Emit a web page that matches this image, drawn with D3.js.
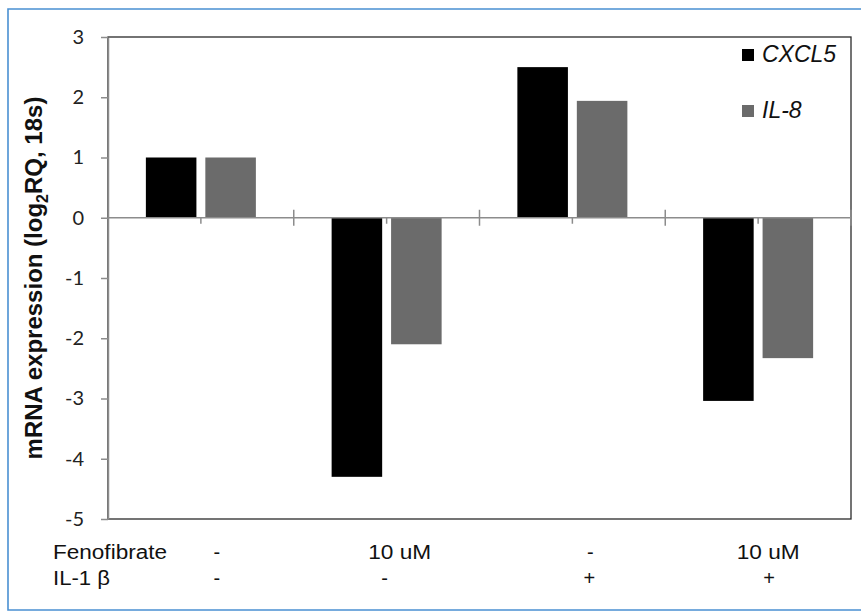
<!DOCTYPE html>
<html>
<head>
<meta charset="utf-8">
<script src="https://cdn.jsdelivr.net/npm/d3@7"></script>
<style>
  body { margin: 0; background: #fff; }
  svg { display: block; }
  .row-label { font-family: "Liberation Sans", Arial, sans-serif; font-size: 20px; fill: #111; }
</style>
</head>
<body>
<div id="vis"></div>
<script>
// chart values
const groups = ['g1', 'g2', 'g3', 'g4'];
const series = ['CXCL5', 'IL-8'];
const cxcl5 = [1.0, -4.3, 2.5, -3.04];
const il8 = [1.0, -2.1, 1.94, -2.33];
const yTicks = [-5, -4, -3, -2, -1, 0, 1, 2, 3];
const fenofibrate = ['-', '10 uM', '-', '10 uM'];
const il1b = ['-', '-', '+', '+'];

const W = 861, H = 612;
const margin = {top: 37, right: 10, bottom: 93, left: 108};
const width = W - margin.left - margin.right;
const height = H - margin.top - margin.bottom;

const colors = {CXCL5: '#000000', 'IL-8': '#6b6b6b'};

const svg = d3.select('#vis').append('svg')
    .attr('width', W)
    .attr('height', H);

// light blue outer frame (right edge is cut off in the picture)
svg.append('path')
    .attr('d', `M${W + 5},9 H8 V610 H${W + 5}`)
    .attr('fill', 'none')
    .attr('stroke', '#4a90d2')
    .attr('stroke-width', 1.6);

const g = svg.append('g')
    .attr('transform', `translate(${margin.left},${margin.top})`);

const x = d3.scaleBand().domain(groups).range([0, width]).padding(0);
const xSub = d3.scaleBand().domain(series).range([-55, 55]).paddingInner(0.15);
const y = d3.scaleLinear().domain([-5, 3]).range([height, 0]);

// plot frame
g.append('rect')
    .attr('x', 0).attr('y', 0)
    .attr('width', width).attr('height', height)
    .attr('fill', 'none')
    .attr('stroke', '#2a2a2a')
    .attr('stroke-width', 1.3);

// bars
const rows = groups.map((k, i) => ({group: k, values: [
    {key: 'CXCL5', v: cxcl5[i]},
    {key: 'IL-8', v: il8[i]}
]}));

g.selectAll('.grp')
    .data(rows)
    .join('g')
    .attr('class', 'grp')
    .attr('transform', d => `translate(${x(d.group) + x.bandwidth() / 2},0)`)
    .selectAll('rect')
    .data(d => d.values)
    .join('rect')
    .attr('x', d => xSub(d.key))
    .attr('width', xSub.bandwidth())
    .attr('y', d => y(Math.max(0, d.v)))
    .attr('height', d => Math.abs(y(d.v) - y(0)))
    .attr('fill', d => colors[d.key]);

// zero line with category ticks
const zero = g.append('g').attr('transform', `translate(0,${y(0)})`);
zero.append('line')
    .attr('x1', 0).attr('x2', width)
    .attr('stroke', '#8c8c8c').attr('stroke-width', 1.5);
zero.selectAll('.major')
    .data(groups.slice(1).concat(['end']))
    .join('line')
    .attr('x1', d => d === 'end' ? width : x(d))
    .attr('x2', d => d === 'end' ? width : x(d))
    .attr('y1', -8).attr('y2', 8)
    .attr('stroke', '#8c8c8c').attr('stroke-width', 1.5);
zero.selectAll('.minor')
    .data(groups)
    .join('line')
    .attr('x1', d => x(d) + x.bandwidth() / 2)
    .attr('x2', d => x(d) + x.bandwidth() / 2)
    .attr('y1', 0).attr('y2', 6)
    .attr('stroke', '#8c8c8c').attr('stroke-width', 1.5);

// y axis
const yAxis = d3.axisLeft(y)
    .tickValues(yTicks)
    .tickFormat(d3.format('d'))
    .tickSize(7)
    .tickSizeOuter(0)
    .tickPadding(17);
const ya = g.append('g').call(yAxis);
ya.select('.domain').attr('stroke', '#8c8c8c').attr('stroke-width', 1.5);
ya.selectAll('.tick line').attr('stroke', '#8c8c8c').attr('stroke-width', 1.5);
ya.selectAll('.tick text')
    .style('font-family', 'Lato, "Open Sans", sans-serif')
    .style('font-size', '20px')
    .attr('fill', '#222')
    .text(d => d < 0 ? '-' + Math.abs(d) : d);

// y axis title
const title = svg.append('text')
    .attr('transform', `translate(42,${margin.top + height / 2}) rotate(-90)`)
    .attr('text-anchor', 'middle')
    .style('font-family', '"Liberation Sans", Arial, sans-serif')
    .style('font-weight', 'bold')
    .style('font-size', '24px')
    .attr('fill', '#111');
title.append('tspan').text('mRNA expression (log');
title.append('tspan').attr('dy', 6).style('font-size', '16px').text('2');
title.append('tspan').attr('dy', -6).text('RQ, 18s)');

// legend
const legend = svg.append('g').attr('transform', 'translate(742,49)');
legend.selectAll('g')
    .data(series)
    .join('g')
    .attr('transform', (d, i) => `translate(0,${i * 56})`)
    .each(function (d) {
        const s = d3.select(this);
        s.append('rect').attr('width', 12).attr('height', 12).attr('fill', colors[d]);
        s.append('text')
            .attr('x', 20).attr('y', 13)
            .style('font-family', '"Liberation Sans", Arial, sans-serif')
            .style('font-style', 'italic')
            .style('font-size', '23px')
            .attr('fill', '#111')
            .text(d);
    });

// condition table under the axis (text is a bit wide in the picture)
const colShift = [[16, 13, 18, 10], [16, -2, 17, 11]];
const stretch = {'Fenofibrate': 114, 'IL-1 β': 57, '10 uM': 63};
const tableRows = [
    {name: 'Fenofibrate', vals: fenofibrate, y: 559},
    {name: 'IL-1 β', vals: il1b, y: 585}
];
tableRows.forEach((r, ri) => {
    svg.append('text')
        .attr('class', 'row-label')
        .attr('x', 53).attr('y', r.y)
        .attr('textLength', stretch[r.name])
        .attr('lengthAdjust', 'spacingAndGlyphs')
        .text(r.name);
    svg.selectAll(null)
        .data(r.vals)
        .join('text')
        .attr('class', 'row-label')
        .attr('text-anchor', 'middle')
        .attr('x', (d, i) => margin.left + x(groups[i]) + x.bandwidth() / 2 + colShift[ri][i])
        .attr('y', r.y)
        .attr('textLength', d => stretch[d] || null)
        .attr('lengthAdjust', 'spacingAndGlyphs')
        .text(d => d);
});
</script>
</body>
</html>
